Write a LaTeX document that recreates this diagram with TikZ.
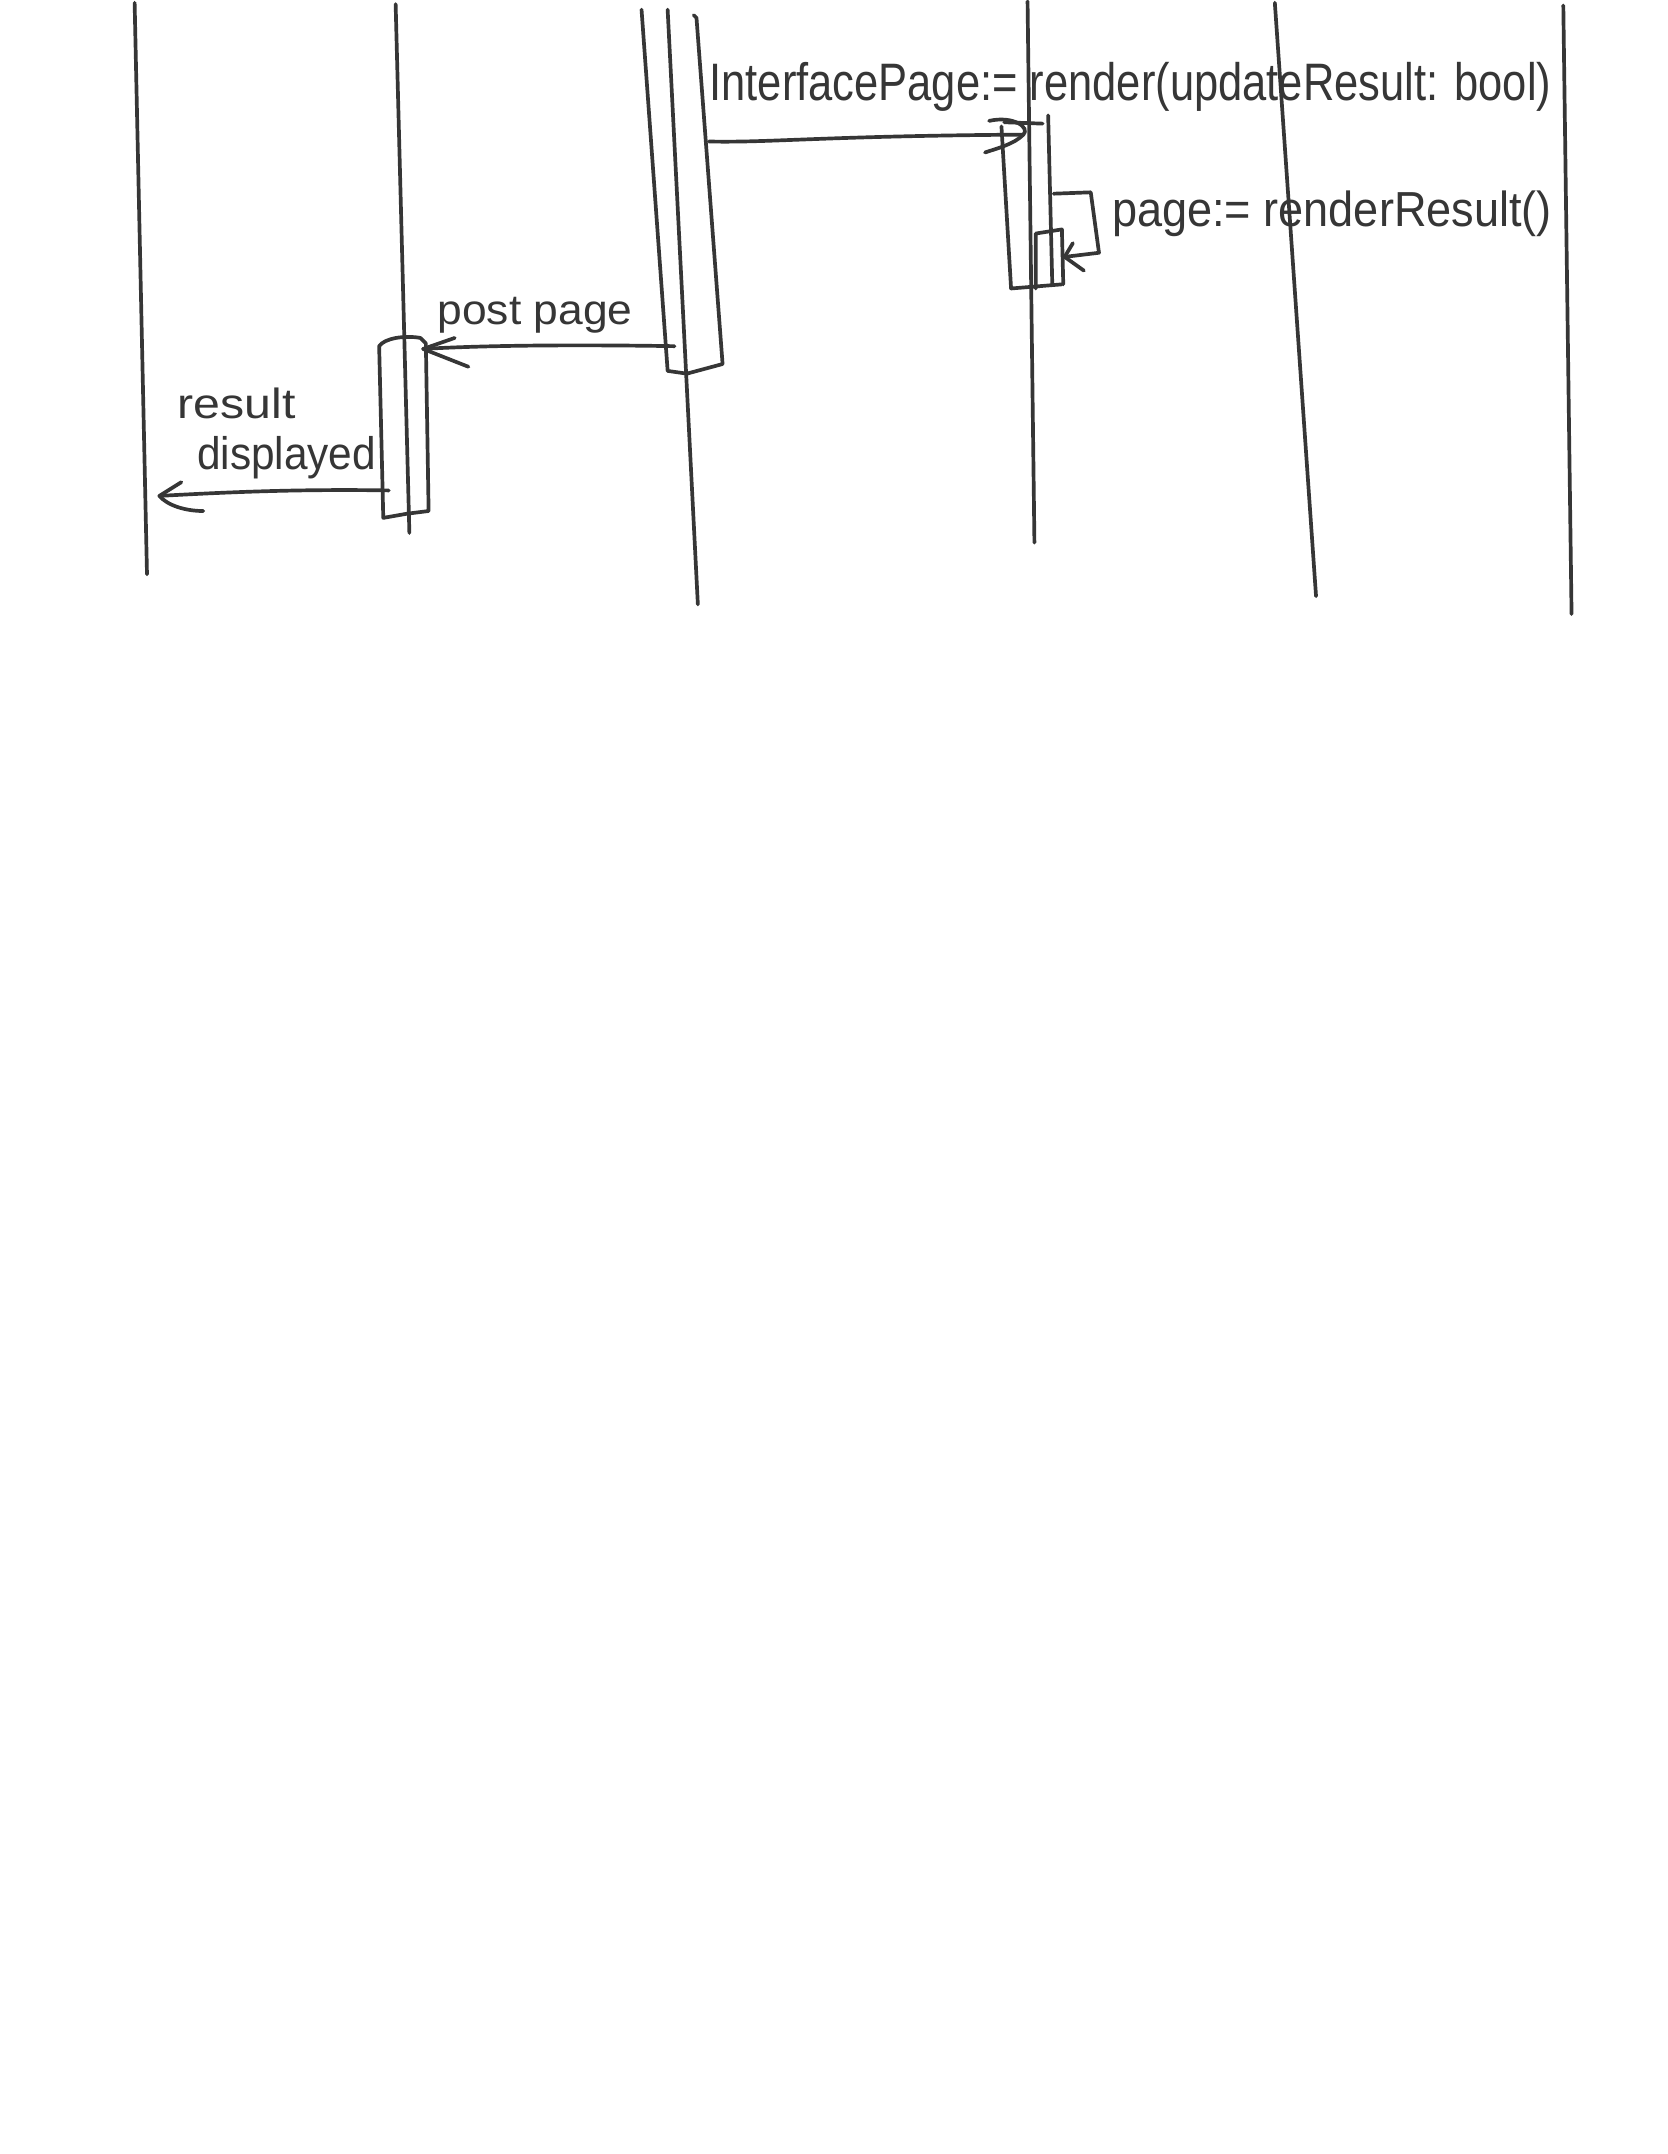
\documentclass[tikz,border=0pt]{standalone}
\usepackage{fontspec}
\setmainfont{Liberation Sans}
\usepackage{graphicx}
\definecolor{ink}{HTML}{363636}
\newcommand\hw[3]{\resizebox{#1}{\height}{\fontsize{#2}{#2}\selectfont #3}}
\begin{document}
\begin{tikzpicture}[x=0.1374mm,y=-0.1374mm,
  pen/.style={draw=ink,line width=1.05pt,line cap=round,line join=round},
  lbl/.style={inner sep=0pt,anchor=base west,text=ink}]
\useasboundingbox (0,0) rectangle (1214,1568);
\fill[white] (0,0) rectangle (1214,1568);
% lifelines
\coordinate (L1t) at (98,2);    \coordinate (L1b) at (107,418);
\coordinate (L2t) at (288,3);   \coordinate (L2b) at (298,388);
\coordinate (L3t) at (486,7);   \coordinate (L3b) at (508,440);
\coordinate (L4t) at (748,1);   \coordinate (L4b) at (753,395);
\coordinate (L5t) at (928,2);   \coordinate (L5b) at (958,434);
\coordinate (L6t) at (1138,4);  \coordinate (L6b) at (1144,447);
\foreach \i in {1,...,6} \draw[pen] (L\i t) -- (L\i b);
% activation box on lifeline 3
\draw[pen] (467,7) -- (486,270) -- (500,272) -- (526,265) -- (507,13) -- (505,11);
% activation box on lifeline 2
\draw[pen] (279,377) -- (276,252) .. controls (280,246) and (295,244) .. (306,246) -- (310,250) -- (312,372) -- (296,374) -- cycle;
% activation box on lifeline 4
\draw[pen] (729,92) -- (736,210) -- (773,207);
\draw[pen] (731,89) -- (759,90);
\draw[pen] (763,84) -- (766,207);
% nested activation
\draw[pen] (754,210) -- (754,170) -- (773,167) -- (774,207);
% message 1
\coordinate (m1s) at (516,103); \coordinate (m1e) at (745,98);
\draw[pen] (m1s) .. controls (560,104) and (600,99) .. (m1e);
\draw[pen] (720,88) .. controls (738,84) and (750,93) .. (m1e) .. controls (738,105) and (726,108) .. (717,111);
\node[lbl] (t1) at (516,73) {\hw{84.2mm}{15}{InterfacePage:= render(updateResult: bool)}};
% self call
\coordinate (scs) at (767,141); \coordinate (sce) at (775,187);
\draw[pen] (scs) -- (794,140) -- (800,184) -- (sce);
\draw[pen] (781,177) -- (sce) -- (789,197);
\node[lbl] (t2) at (809,165) {\hw{44mm}{14}{page:= renderResult()}};
% message post page
\coordinate (m3s) at (491,252); \coordinate (m3e) at (308,254);
\draw[pen] (m3s) .. controls (430,251) and (360,251) .. (m3e);
\draw[pen] (331,246) -- (m3e) -- (341,267);
\node[lbl] (t3) at (318,236) {\hw{19.5mm}{12}{post page}};
% message result displayed
\coordinate (m4s) at (283,357); \coordinate (m4e) at (116,361);
\draw[pen] (m4s) .. controls (220,356) and (170,358) .. (m4e);
\draw[pen] (132,351) -- (m4e) .. controls (122,368) and (135,372) .. (148,372);
\node[lbl] (t4) at (129,305) {\hw{11.8mm}{12}{result}};
\node[lbl] (t5) at (143,342) {\hw{17.9mm}{13}{displayed}};
\end{tikzpicture}
\end{document}
